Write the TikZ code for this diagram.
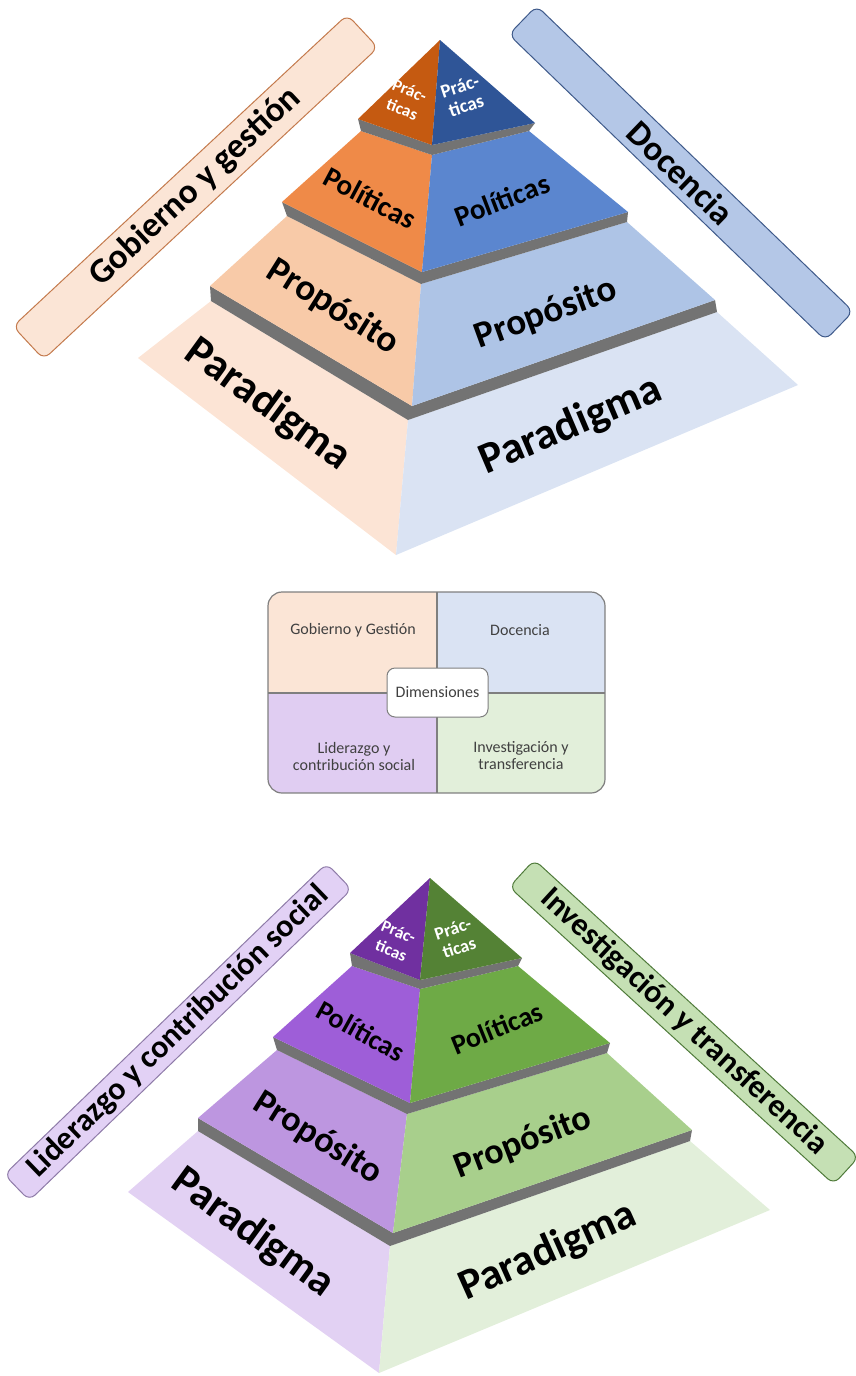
\documentclass[tikz,border=0pt]{standalone}
\usepackage{fontspec}
\setmainfont{Carlito}

% --- colours: upper pyramid (Gobierno y gestión / Docencia)
\definecolor{A1L}{HTML}{C55A11}
\definecolor{A1R}{HTML}{2F5597}
\definecolor{A2L}{HTML}{EF8A48}
\definecolor{A2R}{HTML}{5B86CF}
\definecolor{A3L}{HTML}{F8CAA8}
\definecolor{A3R}{HTML}{AEC4E6}
\definecolor{A4L}{HTML}{FCE4D5}
\definecolor{A4R}{HTML}{DAE3F3}
% --- colours: lower pyramid (Liderazgo / Investigación)
\definecolor{B1L}{HTML}{7030A0}
\definecolor{B1R}{HTML}{548235}
\definecolor{B2L}{HTML}{9E5ED8}
\definecolor{B2R}{HTML}{6EAA46}
\definecolor{B3L}{HTML}{BD96E0}
\definecolor{B3R}{HTML}{A8CF8C}
\definecolor{B4L}{HTML}{E2D1F3}
\definecolor{B4R}{HTML}{E2EFDA}
\definecolor{bandgray}{HTML}{737373}
% --- side labels
\definecolor{GobF}{HTML}{FBE5D6}
\definecolor{GobB}{HTML}{C47A4D}
\definecolor{DocF}{HTML}{B4C7E7}
\definecolor{DocB}{HTML}{3F5A8A}
\definecolor{LidF}{HTML}{E2D1F5}
\definecolor{LidB}{HTML}{8E7BA8}
\definecolor{InvF}{HTML}{C5E0B4}
\definecolor{InvB}{HTML}{4F7A3A}
% --- legend
\definecolor{cellGG}{HTML}{FBE5D6}
\definecolor{cellDo}{HTML}{DAE3F3}
\definecolor{cellLi}{HTML}{E0CDF2}
\definecolor{cellIn}{HTML}{E2EFDA}
\definecolor{legline}{HTML}{7F7F7F}
\definecolor{legtext}{HTML}{404040}

\tikzset{
  band/.style={fill=bandgray},
  facelbl/.style={inner sep=0pt, text=black, font=\bfseries\fontsize{#1}{#1}\selectfont},
  toplbl/.style={inner sep=0pt, text=white, align=center, font=\bfseries\fontsize{#1}{20}\selectfont},
  sidebox/.style={draw, line width=1pt, rounded corners=8pt, inner sep=0pt, text=black,
                  font=\bfseries\fontsize{#1}{#1}\selectfont},
  cell/.style={inner sep=0pt, text=legtext, align=center, font=\fontsize{16}{17}\selectfont},
}

% Draws a four-tier pyramid whose corner coordinates carry the prefix #1
\newcommand{\pyramid}[1]{%
  \fill[#14L] (#14tl) -- (#14tc) -- (#14bc) -- (#14bl) -- cycle;
  \fill[#14R] (#14tc) -- (#14tr) -- (#14br) -- (#14bc) -- cycle;
  \fill[band] (#13bl) -- (#13bc) -- (#13br) -- (#14tr) -- (#14tc) -- (#14tl) -- cycle;
  \fill[#13L] (#13tl) -- (#13tc) -- (#13bc) -- (#13bl) -- cycle;
  \fill[#13R] (#13tc) -- (#13tr) -- (#13br) -- (#13bc) -- cycle;
  \fill[band] (#12bl) -- (#12bc) -- (#12br) -- (#13tr) -- (#13tc) -- (#13tl) -- cycle;
  \fill[#12L] (#12tl) -- (#12tc) -- (#12bc) -- (#12bl) -- cycle;
  \fill[#12R] (#12tc) -- (#12tr) -- (#12br) -- (#12bc) -- cycle;
  \fill[band] (#11bl) -- (#11bc) -- (#11br) -- (#12tr) -- (#12tc) -- (#12tl) -- cycle;
  \fill[#11L] (#1apex) -- (#11bc) -- (#11bl) -- cycle;
  \fill[#11R] (#1apex) -- (#11br) -- (#11bc) -- cycle;
}

\begin{document}
\begin{tikzpicture}[x=1pt,y=-1pt]
\useasboundingbox (0,0) rectangle (855,1376);

% ================= upper pyramid =================
\coordinate (Aapex) at (440,40);
\coordinate (A1bl) at (358,119); \coordinate (A1bc) at (432,145); \coordinate (A1br) at (535,123);
\coordinate (A2tl) at (361,131); \coordinate (A2tc) at (432,155); \coordinate (A2tr) at (529,131);
\coordinate (A2bl) at (282,202); \coordinate (A2bc) at (422,272); \coordinate (A2br) at (628,212);
\coordinate (A3tl) at (287,216); \coordinate (A3tc) at (421,284); \coordinate (A3tr) at (627,222);
\coordinate (A3bl) at (210,286); \coordinate (A3bc) at (412,406); \coordinate (A3br) at (715,300);
\coordinate (A4tl) at (211,301); \coordinate (A4tc) at (408,420); \coordinate (A4tr) at (717,312);
\coordinate (A4bl) at (138,358); \coordinate (A4bc) at (396,555); \coordinate (A4br) at (798,385);
\pyramid{A}

\node[toplbl=17, rotate=-22] (A1lt) at (406,100) {Prác-\\ticas};
\node[toplbl=19, rotate=18]  (A1rt) at (463,96)  {Prác-\\ticas};
\node[facelbl=29, rotate=-28] (A2lt) at (370,198) {Políticas};
\node[facelbl=29, rotate=21]  (A2rt) at (502,200) {Políticas};
\node[facelbl=37, rotate=-32] (A3lt) at (333,307) {Propósito};
\node[facelbl=37, rotate=20]  (A3rt) at (546,314) {Propósito};
\node[facelbl=44, rotate=-36] (A4lt) at (268,405) {Paradigma};
\node[facelbl=44, rotate=23]  (A4rt) at (571,426) {Paradigma};

\node[sidebox=35, draw=GobB, fill=GobF, rotate=43,
      minimum width=457pt, minimum height=45pt] (gob) at (195.5,187) {Gobierno y gestión};
\node[sidebox=35, draw=DocB, fill=DocF, rotate=-44,
      minimum width=440pt, minimum height=40pt] (doc) at (681,173) {Docencia};

% ================= legend =================
\begin{scope}
  \clip[rounded corners=14pt] (268,592) rectangle (605,793);
  \fill[cellGG] (268,592) rectangle (437,693);
  \fill[cellDo] (437,592) rectangle (605,693);
  \fill[cellLi] (268,693) rectangle (437,793);
  \fill[cellIn] (437,693) rectangle (605,793);
\end{scope}
\draw[legline, line width=1.2pt] (437,592) -- (437,793);
\draw[legline, line width=1.2pt] (268,693) -- (605,693);
\draw[legline, line width=1.2pt, rounded corners=14pt] (268,592) rectangle (605,793);

\node[cell] (cGG) at (353,630) {Gobierno y Gestión};
\node[cell] (cDo) at (520,630) {Docencia};
\node[cell] (cLi) at (354,756) {Liderazgo y\\contribución social};
\node[cell] (cIn) at (521,756) {Investigación y\\transferencia};
\node[cell, draw=legline, line width=1pt, fill=white, rounded corners=8pt,
      minimum width=101pt, minimum height=49pt] (dim) at (437.5,692.5) {Dimensiones};

% ================= lower pyramid =================
\coordinate (Bapex) at (430,878);
\coordinate (B1bl) at (350,953); \coordinate (B1bc) at (420,980); \coordinate (B1br) at (522,958);
\coordinate (B2tl) at (352,966); \coordinate (B2tc) at (420,989); \coordinate (B2tr) at (518,966);
\coordinate (B2bl) at (273,1037); \coordinate (B2bc) at (410,1103); \coordinate (B2br) at (610,1043);
\coordinate (B3tl) at (277,1050); \coordinate (B3tc) at (407,1114); \coordinate (B3tr) at (607,1053);
\coordinate (B3bl) at (198,1118); \coordinate (B3bc) at (393,1233); \coordinate (B3br) at (692,1130);
\coordinate (B4tl) at (198,1131); \coordinate (B4tc) at (390,1246); \coordinate (B4tr) at (690,1141);
\coordinate (B4bl) at (128,1192); \coordinate (B4bc) at (379,1373); \coordinate (B4br) at (770,1210);
\pyramid{B}

\node[toplbl=17, rotate=-22] (B1lt) at (395,941) {Prác-\\ticas};
\node[toplbl=18, rotate=18]  (B1rt) at (456,938) {Prác-\\ticas};
\node[facelbl=28, rotate=-29] (B2lt) at (361,1031) {Políticas};
\node[facelbl=28, rotate=22]  (B2rt) at (497,1028) {Políticas};
\node[facelbl=36, rotate=-32] (B3lt) at (318,1138) {Propósito};
\node[facelbl=36, rotate=21]  (B3rt) at (523,1143) {Propósito};
\node[facelbl=43, rotate=-36] (B4lt) at (253,1233) {Paradigma};
\node[facelbl=43, rotate=24]  (B4rt) at (548,1252) {Paradigma};

\node[sidebox=32, draw=LidB, fill=LidF, rotate=44,
      minimum width=448pt, minimum height=36pt] (lid) at (178,1032) {Liderazgo y contribución social};
\node[sidebox=32, draw=InvB, fill=InvF, rotate=-42.5,
      minimum width=440pt, minimum height=37pt] (inv) at (684,1022) {Investigación y transferencia};
\end{tikzpicture}
\end{document}
